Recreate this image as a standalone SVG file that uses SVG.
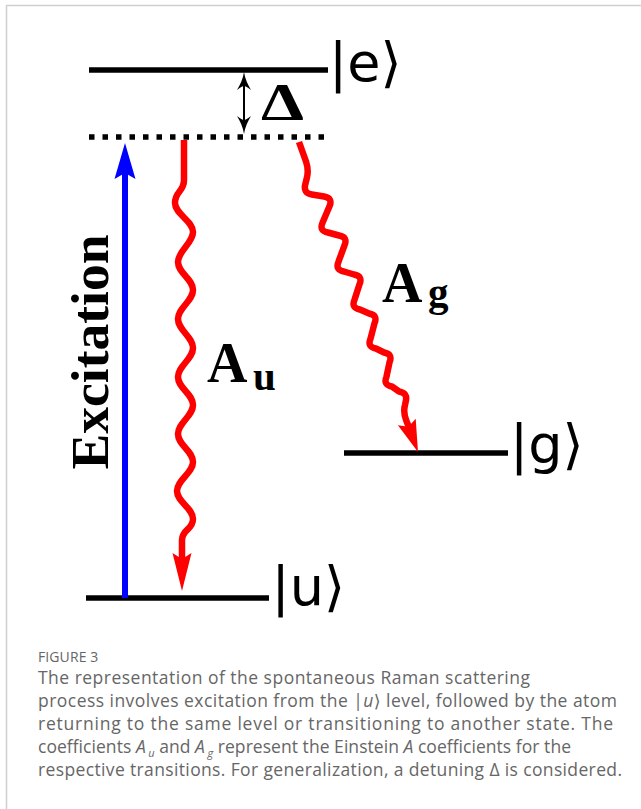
<svg xmlns="http://www.w3.org/2000/svg" width="641" height="809" viewBox="0 0 641 809">
<style>
.lvl{stroke:#000;stroke-width:5.5;fill:none}
.dot{stroke:#000;stroke-width:5.5;fill:none;stroke-dasharray:5.5 8}
.wave{stroke:#ff0000;stroke-width:6.5;fill:none;stroke-linejoin:round;stroke-linecap:butt}
.red{fill:#ff0000}
.state{font-family:"DejaVu Sans",sans-serif;font-size:54px;fill:#000}
.math{font-family:"Liberation Serif",serif;font-weight:bold;fill:#000}
.cap{font-family:"Open Sans","DejaVu Sans",sans-serif;font-size:17.5px;fill:#666}
</style>
<rect x="0" y="0" width="641" height="809" fill="#fff"/>
<path d="M6.5,809 V5.5 H641" stroke="#cfcfcf" stroke-width="1.5" fill="none"/>

<g id="level-e">
<line class="lvl" x1="89" y1="70" x2="328" y2="70"/>
<text class="state" x="329" y="81">|e⟩</text>
</g>
<g id="virtual-level">
<line class="dot" x1="89" y1="137" x2="328" y2="137"/>
</g>
<g id="level-u">
<line class="lvl" x1="86" y1="598" x2="269" y2="598"/>
<text class="state" x="271.5" y="605">|u⟩</text>
</g>
<g id="level-g">
<line class="lvl" x1="344" y1="453" x2="508" y2="453"/>
<text class="state" x="510" y="463">|g⟩</text>
</g>

<g id="connectors">
<g id="detuning">
<line x1="244" y1="82" x2="244" y2="124" stroke="#000" stroke-width="2"/>
<path d="M244,72 C245,79 248,85 251,90 Q246,86 244,86 Q242,86 237,90 C240,85 243,79 244,72 Z" fill="#000"/>
<path d="M244,134 C245,127 248,121 251,116 Q246,120 244,120 Q242,120 237,116 C240,121 243,127 244,134 Z" fill="#000"/>
</g>
<g id="excitation-arrow">
<line x1="125" y1="598" x2="125" y2="170" stroke="#0000ff" stroke-width="6"/>
<polygon points="125,143 135.5,179 125,173 114.5,179" fill="#0000ff"/>
</g>
<g id="Au-arrow">
<path class="wave" d="M184,140 L184,180 C184,192 175,191 175,203 C175,214 193,221 193,232 C193,243 178,251 178,262 C178,273 193,279 193,290 C193,301 178,308 178,319 C178,330 193,337 193,348 C193,359 178,366 178,377 C178,388 193,394 193,405 C193,416 178,423 178,434 C178,445 193,451 193,462 C193,473 177,480 177,491 C177,502 193,508 193,519 C193,530 182,529 182,540 L182,560"/>
<polygon class="red" points="172.5,553 182,591 191.5,553 182,559"/>
</g>
<g id="Ag-arrow">
<path class="wave" d="M299,142 L306,161.5 Q309,170 306.7,178.7 L305.3,184.3 Q303,193 311.9,194.5 L324.1,196.5 Q333,198 329.5,206.3 L322.5,222.7 Q319,231 327.9,232.5 L339.1,235.5 Q348,237 344.5,245.3 L338.5,261.7 Q335,270 343.9,271.5 L354.1,274.5 Q363,276 359.5,284.3 L354.5,299.7 Q351,308 359.9,309.5 L369.1,313.5 Q378,315 374.5,323.3 L370.5,338.7 Q367,347 375.9,348.5 L384.1,352.5 Q393,354 389.5,362.3 L386.5,376.7 Q383,385 391.9,386.5 L399.1,391.5 Q408,393 405.7,401.7 L405,405 Q403,412 406.2,420.4 L409,427.5"/>
<polygon class="red" points="418,452 397.9,425.3 408.5,426.7 415.7,418.7"/>
</g>
</g>

<g id="labels">
<text class="math" x="108" y="352" font-size="53" text-anchor="middle" textLength="235" lengthAdjust="spacingAndGlyphs" transform="rotate(-90 108 352)">Excitation</text>
<text class="math" x="261" y="120" font-size="52" textLength="43" lengthAdjust="spacingAndGlyphs">Δ</text>
<text class="math" x="207" y="382" font-size="56">A</text>
<text class="math" x="253" y="390" font-size="41">u</text>
<text class="math" x="382" y="302" font-size="56">A</text>
<text class="math" x="428" y="306" font-size="41">g</text>
</g>

<g id="caption">
<text x="38" y="662" font-family="'Open Sans','DejaVu Sans',sans-serif" font-size="14" fill="#666" letter-spacing="0.1">FIGURE 3</text>
<text class="cap" x="38" y="684" textLength="492">The representation of the spontaneous Raman scattering</text>
<text class="cap" x="38" y="707" textLength="579">process involves excitation from the |<tspan font-style="italic">u</tspan>⟩ level, followed by the atom</text>
<text class="cap" x="38" y="730" textLength="575">returning to the same level or transitioning to another state. The</text>
<text class="cap" x="38" y="753" textLength="533">coefficients <tspan font-style="italic">A</tspan><tspan font-style="italic" font-size="11" dx="2.5" dy="4">u</tspan><tspan dy="-4"> and </tspan><tspan font-style="italic">A</tspan><tspan font-style="italic" font-size="11" dx="2.5" dy="4">g</tspan><tspan dy="-4"> represent the Einstein </tspan><tspan font-style="italic">A</tspan> coefficients for the</text>
<text class="cap" x="38" y="776" textLength="584">respective transitions. For generalization, a detuning Δ is considered.</text>
</g>
</svg>
